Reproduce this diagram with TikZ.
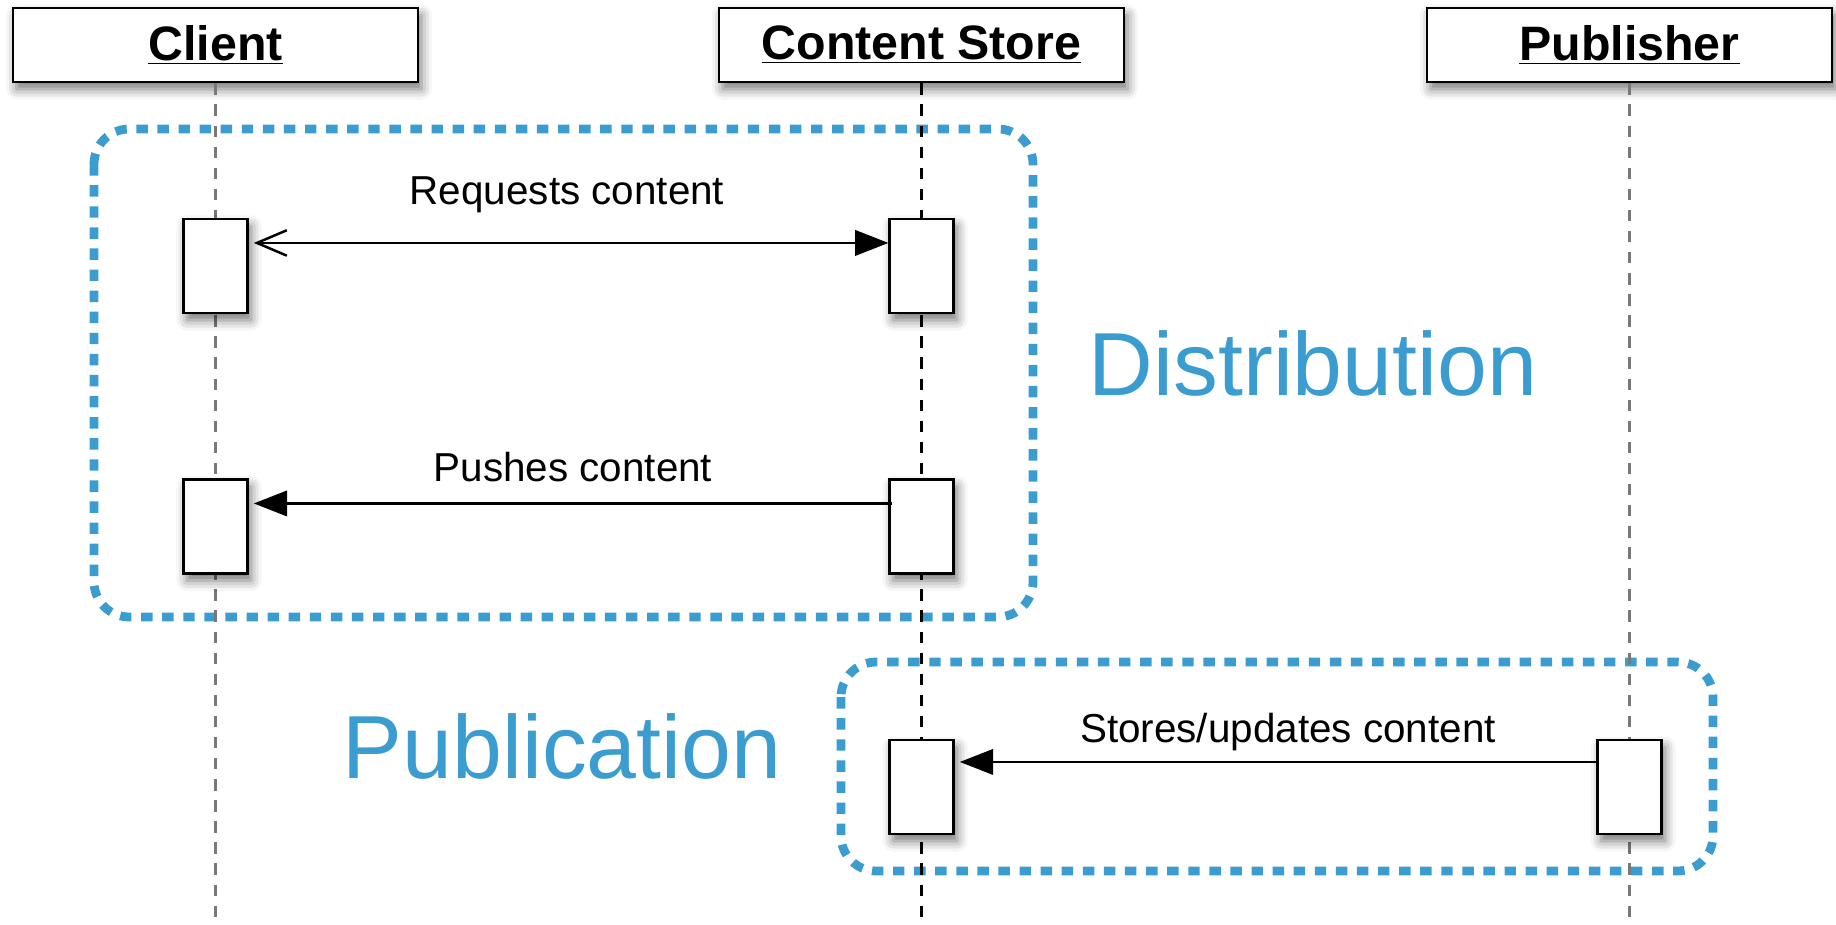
\documentclass[tikz,border=0pt]{standalone}
\usepackage{fontspec}
\setmainfont{Liberation Sans}
\usetikzlibrary{arrows.meta,shadows.blur}

\definecolor{phaseblue}{RGB}{59,157,207}
\definecolor{lifegray}{RGB}{120,120,120}

\begin{document}
\begin{tikzpicture}[x=0.02cm, y=-0.02cm,
    boxshadow/.style={blur shadow={shadow xshift=2pt, shadow yshift=-4pt, shadow blur radius=6pt, shadow opacity=55}},
    actor/.style={draw, line width=1.6pt, fill=white, minimum width=8.1cm, minimum height=1.48cm,
        font=\fontsize{27.5}{30}\selectfont\bfseries, boxshadow},
    act/.style={draw, line width=1.2pt, fill=white, minimum width=1.28cm, minimum height=1.88cm,
        inner sep=0pt, boxshadow},
    lifeline/.style={line width=1.2pt, dash pattern=on 6.5pt off 5.5pt},
    msg/.style={line width=1.4pt, -{Triangle[length=19pt, width=14.5pt]}},
    msglabel/.style={font=\fontsize{23}{26}\selectfont, anchor=base},
    phase/.style={draw=phaseblue, line width=5pt, rounded corners=20pt, dash pattern=on 6.5pt off 5.5pt},
    phaselabel/.style={text=phaseblue, font=\fontsize{51}{56}\selectfont, anchor=base}]

    \useasboundingbox (0,0) rectangle (1836,925);

    % dotted phase frames
    \draw[phase] (94,129) rectangle (1033,617);
    \draw[phase] (841,662) rectangle (1713,871);

    % actors and their lifelines
    \node[actor] (client) at (215.5,45) {\underline{Client}};
    \node[actor] (store) at (921.5,45) {\underline{Content Store}};
    \node[actor] (pub) at (1629.5,45) {\underline{Publisher}};

    \coordinate (clientend) at (215.5,925);
    \coordinate (storeend) at (921.5,925);
    \coordinate (pubend) at (1629.5,925);

    \draw[lifeline, lifegray] (client) -- (clientend);
    \draw[lifeline, black] (store) -- (storeend);
    \draw[lifeline, lifegray] (pub) -- (pubend);

    % activations
    \node[act] (c1) at (215.5,266) {};
    \node[act] (s1) at (921.5,266) {};
    \node[act] (c2) at (215.5,526.5) {};
    \node[act] (s2) at (921.5,526.5) {};
    \node[act] (s3) at (921.5,787) {};
    \node[act] (p3) at (1629.5,787) {};

    % messages
    \draw[msg, {Straight Barb[length=17pt, width=14.5pt]}-{Triangle[length=19pt, width=14.5pt]}, shorten <=3pt]
        ([yshift=-25*0.02cm]c1.north east) -- ([yshift=-25*0.02cm]s1.north west);
    \node[msglabel] (req) at (567,205) {Requests content};

    \draw[msg, shorten <=-2pt, shorten >=3pt]
        ([yshift=-25*0.02cm]s2.north west) -- ([yshift=-25*0.02cm]c2.north east);
    \node[msglabel] (push) at (573,482) {Pushes content};

    \draw[msg, shorten >=3pt]
        ([yshift=-23*0.02cm]p3.north west) -- ([yshift=-23*0.02cm]s3.north east);
    \node[msglabel] (store-msg) at (1288,742) {Stores/updates content};

    % phase names
    \node[phaselabel] (dist) at (1313,396) {Distribution};
    \node[phaselabel] (publ) at (562,778) {Publication};
\end{tikzpicture}
\end{document}
